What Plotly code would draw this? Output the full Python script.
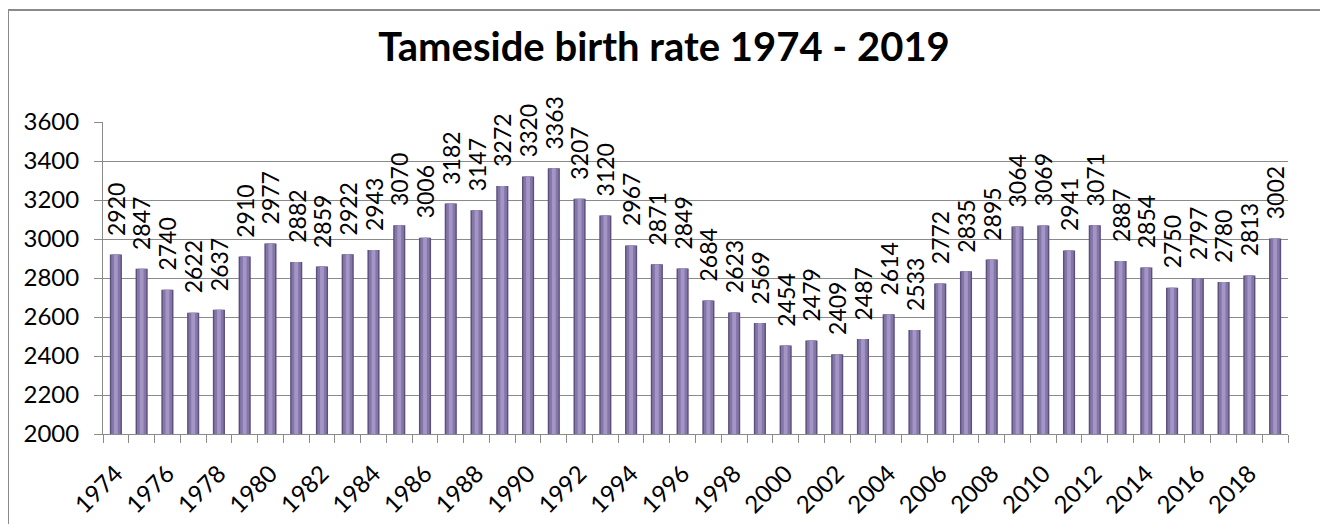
import plotly.graph_objects as go

years = list(range(1974, 2020))
births = [2920, 2847, 2740, 2622, 2637, 2910, 2977, 2882, 2859, 2922,
          2943, 3070, 3006, 3182, 3147, 3272, 3320, 3363, 3207, 3120,
          2967, 2871, 2849, 2684, 2623, 2569, 2454, 2479, 2409, 2487,
          2614, 2533, 2772, 2835, 2895, 3064, 3069, 2941, 3071, 2887,
          2854, 2750, 2797, 2780, 2813, 3002]
tick_years = [y for y in years if y % 2 == 0]
tick_labels = [str(y) for y in tick_years]
title_text = "Tameside birth rate 1974 - 2019"

FONT = "Lato"
# page body has an 8px margin, so the figure is sized to fit inside the window
W, H = 1320, 516
L, R, T, B = 95, 40, 114, 90
pw, ph = W - L - R, H - T - B

fig = go.Figure()
# cylinder-like bars: dark edge, mid body, highlight
for width, color in [(0.47, "#5c4f7c"), (0.36, "#8576a8"), (0.15, "#a396c6")]:
    fig.add_trace(go.Bar(x=years, y=births, width=width,
                         marker=dict(color=color, line=dict(width=0)),
                         hoverinfo="skip", showlegend=False))

for yr, v in zip(years, births):
    fig.add_annotation(x=yr, y=v, text=str(v), textangle=-90, showarrow=False,
                       xanchor="center", yanchor="bottom", yshift=17,
                       font=dict(family=FONT, size=23, color="black"))

grid = "#8a8a8a"
fig.update_layout(
    width=W, height=H,
    margin=dict(l=L, r=R, t=T, b=B, autoexpand=False),
    paper_bgcolor="white", plot_bgcolor="white",
    barmode="overlay",
    title=dict(text="<b>" + title_text + "</b>", x=656 / W, xref="container",
               xanchor="center", y=1 - 39 / H, yref="container", yanchor="middle",
               automargin=False,
               font=dict(family=FONT, size=40, color="black")),
    xaxis=dict(range=[1973.5, 2019.5], tickmode="array", tickvals=tick_years,
               ticktext=tick_labels, tickangle=-45, ticks="", showgrid=False,
               showline=True, linecolor=grid, linewidth=1, automargin=False,
               tickfont=dict(family=FONT, size=24, color="black"),
               ticklabelstandoff=15,
               minor=dict(ticks="outside", tick0=1973.5, dtick=1, ticklen=8,
                          tickcolor=grid, tickwidth=1, showgrid=False)),
    yaxis=dict(range=[2000, 3600], dtick=200, ticks="outside", ticklen=8,
               tickcolor=grid, showgrid=True, gridcolor=grid, gridwidth=1,
               showline=True, linecolor=grid, linewidth=1, zeroline=False,
               automargin=False,
               tickfont=dict(family=FONT, size=24, color="black"),
               ticklabelstandoff=10),
    shapes=[dict(type="rect", xref="paper", yref="paper",
                 x0=(0 - L) / pw, x1=(1318 - L) / pw,
                 y0=(H - B - 540) / ph, y1=(H - B - 2) / ph,
                 line=dict(color="#8a8a8a", width=2), fillcolor="rgba(0,0,0,0)",
                 layer="above")],
)

fig.write_html("out.html")
